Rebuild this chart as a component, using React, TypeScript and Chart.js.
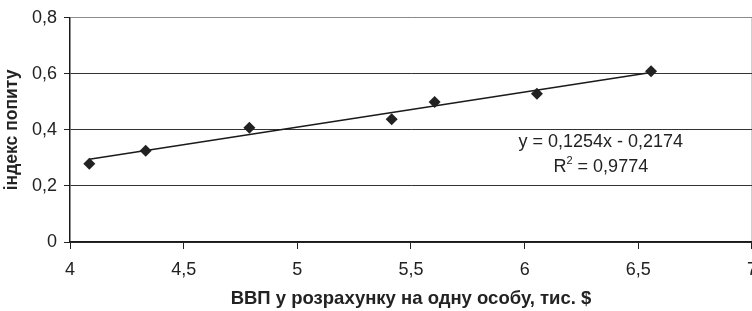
import React, { useEffect, useRef } from "react";
import { Chart, registerables } from "chart.js";

Chart.register(...registerables);

// GDP per capita (thousand $) vs demand index
const gdpValues = [4.085, 4.333, 4.789, 5.415, 5.604, 6.054, 6.556];
const demandIndex = [0.279, 0.326, 0.408, 0.438, 0.5, 0.529, 0.609];

// Linear trendline endpoints (y = 0,1254x - 0,2174)
const trendX = [4.085, 6.556];
const trendY = [0.295, 0.605];

const equationLabel = "y = 0,1254x - 0,2174";
const r2Prefix = "R";
const r2Sup = "2";
const r2Value = " = 0,9774";

const xTitle = "ВВП у розрахунку на одну особу, тис. $";
const yTitle = "індекс попиту";

const X_MIN = 4;
const X_MAX = 7;
const X_STEP = 0.5;
const Y_MIN = 0;
const Y_MAX = 0.8;
const Y_STEP = 0.2;

const FONT = "'Liberation Sans', Arial, sans-serif";

const fmt = (v: number) => String(Math.round(v * 100) / 100).replace(".", ",");

const annotationPlugin = {
  id: "trendLabel",
  afterDatasetsDraw(chart: any) {
    const { ctx, scales } = chart;
    const x = scales.x.getPixelForValue(6.335);
    const y1 = scales.y.getPixelForValue(0.357);
    const y2 = scales.y.getPixelForValue(0.268);
    ctx.save();
    ctx.fillStyle = "#222";
    ctx.textBaseline = "middle";
    ctx.textAlign = "center";
    ctx.font = `18px ${FONT}`;
    ctx.fillText(equationLabel, x, y1);
    // R² line
    const big = `18px ${FONT}`;
    const small = `11px ${FONT}`;
    ctx.font = big;
    const wR = ctx.measureText(r2Prefix).width;
    const wV = ctx.measureText(r2Value).width;
    ctx.font = small;
    const wS = ctx.measureText(r2Sup).width;
    const total = wR + wS + wV;
    let cx = x - total / 2;
    ctx.textAlign = "left";
    ctx.font = big;
    ctx.fillText(r2Prefix, cx, y2);
    cx += wR;
    ctx.font = small;
    ctx.fillText(r2Sup, cx, y2 - 6);
    cx += wS;
    ctx.font = big;
    ctx.fillText(r2Value, cx, y2);
    ctx.restore();
  },
};

export default function App() {
  const ref = useRef<HTMLCanvasElement | null>(null);

  useEffect(() => {
    if (!ref.current) return;
    Chart.defaults.font.family = FONT;
    const chart = new Chart(ref.current, {
      type: "scatter",
      data: {
        datasets: [
          {
            type: "scatter",
            data: gdpValues.map((x, i) => ({ x, y: demandIndex[i] })),
            pointStyle: "rectRot",
            pointRadius: 6,
            pointBackgroundColor: "#222",
            pointBorderColor: "#222",
            pointBorderWidth: 0,
            order: 0,
          },
          {
            type: "line",
            data: trendX.map((x, i) => ({ x, y: trendY[i] })),
            borderColor: "#1a1a1a",
            borderWidth: 1.5,
            pointRadius: 0,
            fill: false,
            order: 1,
          } as any,
        ],
      },
      options: {
        responsive: false,
        animation: false,
        layout: { padding: { top: 16, left: 0, right: 0, bottom: 0 } },
        plugins: {
          legend: { display: false },
          tooltip: { enabled: false },
        },
        scales: {
          x: {
            type: "linear",
            min: X_MIN,
            max: X_MAX,
            ticks: {
              stepSize: X_STEP,
              color: "#222",
              font: { size: 18 },
              padding: 10,
              callback: (v: any) => fmt(Number(v)),
            },
            grid: {
              color: (c: any) => (c.tick && c.tick.value === X_MAX ? "#cfcfcf" : "rgba(0,0,0,0)"),
              tickColor: "#222",
              tickLength: 7,
              lineWidth: 1,
            },
            border: { color: "#1a1a1a", width: 1.5 },
            title: {
              display: true,
              text: xTitle,
              color: "#222",
              font: { size: 18.5, weight: "bold" },
              padding: { top: 4, bottom: 1 },
            },
            afterFit: (s: any) => {
              s.height = 69;
            },
          },
          y: {
            type: "linear",
            min: Y_MIN,
            max: Y_MAX,
            ticks: {
              stepSize: Y_STEP,
              color: "#222",
              font: { size: 18 },
              padding: 7,
              callback: (v: any) => fmt(Number(v)),
            },
            grid: {
              color: (c: any) =>
                c.tick && Math.abs(c.tick.value - Y_MAX) < 1e-6 ? "#8a8a8a" : "#333333",
              tickColor: "#222",
              tickLength: 6,
              lineWidth: 1,
            },
            border: { color: "#1a1a1a", width: 1.5 },
            title: {
              display: true,
              text: yTitle,
              color: "#222",
              font: { size: 17.5, weight: "bold" },
              padding: { top: 2, bottom: 0 },
            },
            afterFit: (s: any) => {
              s.width = 70;
            },
          },
        },
      },
      plugins: [annotationPlugin],
    });
    return () => chart.destroy();
  }, []);

  return (
    <div
      style={{
        position: "fixed",
        left: 0,
        top: 0,
        width: 752,
        height: 311,
        overflow: "hidden",
        background: "#fff",
      }}
    >
      <canvas ref={ref} width={767} height={311} style={{ display: "block" }} />
    </div>
  );
}
